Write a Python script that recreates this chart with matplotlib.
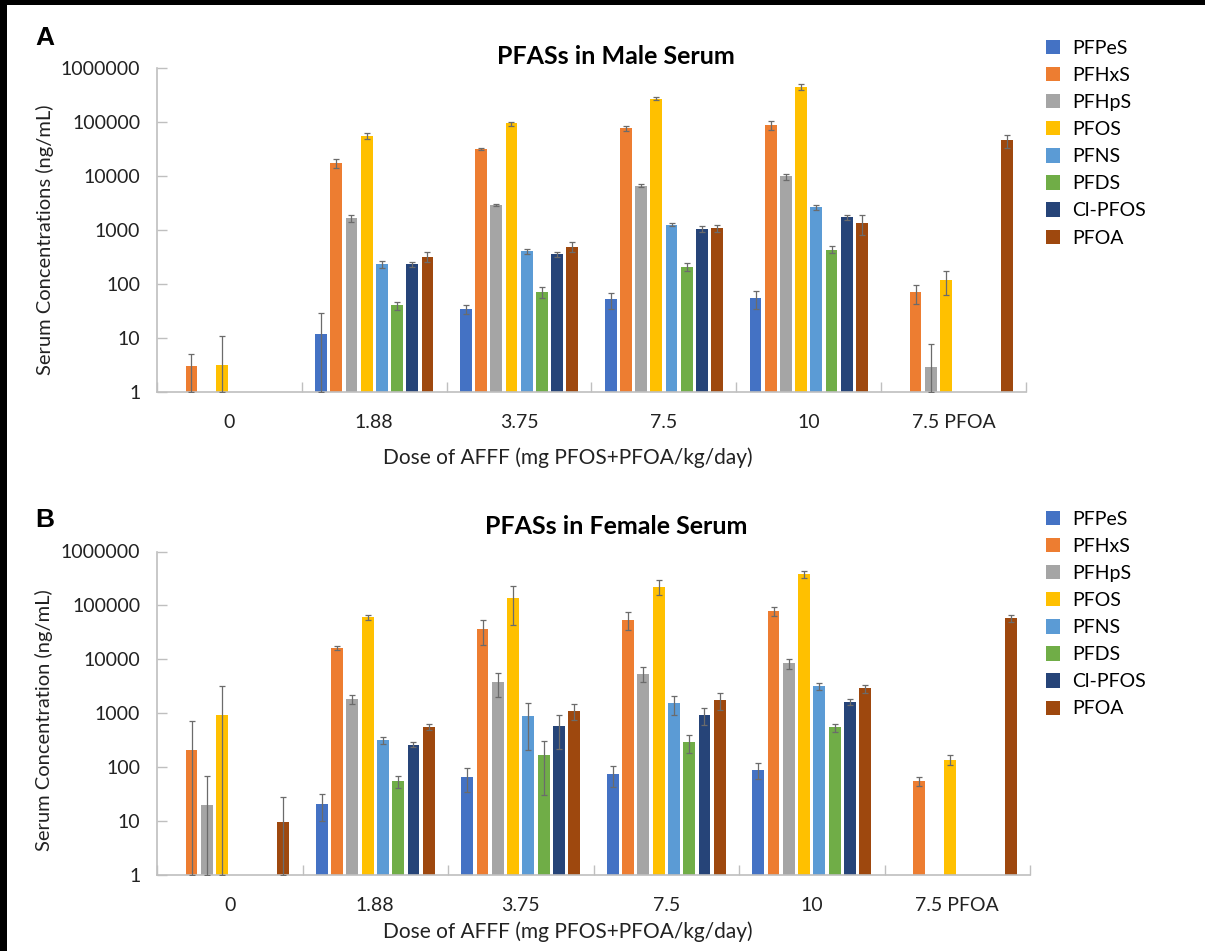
import numpy as np
import matplotlib
matplotlib.use("Agg")
import matplotlib.pyplot as plt
from matplotlib.patches import Rectangle

# --- DATA ---
doses = ["0", "1.88", "3.75", "7.5", "10", "7.5 PFOA"]
compounds = ["PFPeS", "PFHxS", "PFHpS", "PFOS", "PFNS", "PFDS", "Cl-PFOS", "PFOA"]
colors = ["#4472C4", "#ED7D31", "#A5A5A5", "#FFC000", "#5B9BD5", "#70AD47", "#264478", "#9E480E"]
nan = np.nan

# male serum means (one list per compound, one value per dose)
male_pfpes = [nan, 12, 34, 52, 55, nan]
male_pfhxs = [3.05, 17400, 31200, 76700, 87300, 70]
male_pfhps = [nan, 1650, 2900, 6650, 9800, 2.9]
male_pfos = [3.2, 56000, 94000, 270000, 445000, 120]
male_pfns = [nan, 235, 400, 1250, 2630, nan]
male_pfds = [nan, 40, 71, 210, 435, nan]
male_clpfos = [nan, 232, 356, 1050, 1716, nan]
male_pfoa = [nan, 322, 487, 1085, 1364, 45800]

# male upper error-bar ends
male_pfpes_hi = [nan, 29, 40.5, 69, 75, nan]
male_pfhxs_hi = [5.1, 21000, 32500, 86000, 105000, 97]
male_pfhps_hi = [nan, 1920, 3075, 7160, 11100, 7.8]
male_pfos_hi = [10.7, 63500, 102000, 289000, 499000, 177]
male_pfns_hi = [nan, 270, 441, 1325, 2950, nan]
male_pfds_hi = [nan, 47, 88, 245, 501, nan]
male_clpfos_hi = [nan, 260, 393, 1164, 1920, nan]
male_pfoa_hi = [nan, 393, 588, 1250, 1920, 58500]

# female serum means
female_pfpes = [nan, 20.8, 64, 72.6, 88.7, nan]
female_pfhxs = [202, 16300, 36600, 54500, 79100, 54]
female_pfhps = [19.9, 1810, 3740, 5360, 8320, nan]
female_pfos = [930, 60100, 138000, 223000, 384000, 136]
female_pfns = [nan, 310, 877, 1506, 3160, nan]
female_pfds = [nan, 54.5, 168, 285, 541, nan]
female_clpfos = [nan, 258, 564, 914, 1620, nan]
female_pfoa = [9.5, 557, 1103, 1765, 2860, 58600]

# female upper error-bar ends
female_pfpes_hi = [nan, 31.8, 94, 103, 118, nan]
female_pfhxs_hi = [707, 17700, 54500, 74500, 93800, 64.7]
female_pfhps_hi = [68.7, 2120, 5500, 7010, 10000, nan]
female_pfos_hi = [3210, 67500, 233000, 292000, 442000, 166]
female_pfns_hi = [nan, 353, 1550, 2094, 3650, nan]
female_pfds_hi = [nan, 68.7, 306, 389, 632, nan]
female_clpfos_hi = [nan, 285, 914, 1233, 1842, nan]
female_pfoa_hi = [27.5, 632, 1463, 2380, 3350, 67500]

male = [male_pfpes, male_pfhxs, male_pfhps, male_pfos, male_pfns, male_pfds, male_clpfos, male_pfoa]
male_hi = [male_pfpes_hi, male_pfhxs_hi, male_pfhps_hi, male_pfos_hi, male_pfns_hi,
           male_pfds_hi, male_clpfos_hi, male_pfoa_hi]
female = [female_pfpes, female_pfhxs, female_pfhps, female_pfos, female_pfns, female_pfds,
          female_clpfos, female_pfoa]
female_hi = [female_pfpes_hi, female_pfhxs_hi, female_pfhps_hi, female_pfos_hi, female_pfns_hi,
             female_pfds_hi, female_clpfos_hi, female_pfoa_hi]

FONT = "Lato"
AXIS_GREY = "#BFBFBF"


def draw_panel(ax, means, highs, ylabel, title, letter, title_y, letter_y, leg_y):
    x = np.arange(len(doses))
    slot = 0.105
    width = 0.081
    for i, (vals, hi) in enumerate(zip(means, highs)):
        vals = np.array(vals, dtype=float)
        hi = np.array(hi, dtype=float)
        err = hi - vals
        lower = np.minimum(err, vals - 1.0)  # log axis: stop at the baseline
        pos = x + (i - 3.5) * slot
        ax.bar(pos, vals, width=width, color=colors[i], label=compounds[i], zorder=2)
        ax.errorbar(pos, vals, yerr=[lower, err], fmt="none", ecolor="#6b6b6b",
                    elinewidth=0.9, capsize=2.5, capthick=0.9, zorder=3)

    ax.set_yscale("log")
    ax.set_ylim(1, 1e6)
    ax.set_xlim(-0.5, len(doses) - 0.5)
    ticks = [1, 10, 100, 1000, 10000, 100000, 1000000]
    ax.set_yticks(ticks)
    ax.set_yticklabels([str(t) for t in ticks])
    ax.yaxis.set_minor_locator(matplotlib.ticker.NullLocator())
    ax.tick_params(axis="y", direction="in", length=7, width=1, color=AXIS_GREY,
                   labelsize=14, pad=12)

    ax.set_xticks(x)
    ax.set_xticklabels(doses)
    ax.set_xticks(np.arange(len(doses) + 1) - 0.5, minor=True)
    ax.tick_params(axis="x", which="major", length=0, labelsize=14, pad=16)
    ax.tick_params(axis="x", which="minor", direction="in", length=7, width=1, color=AXIS_GREY)

    for s in ["top", "right"]:
        ax.spines[s].set_visible(False)
    for s in ["left", "bottom"]:
        ax.spines[s].set_color(AXIS_GREY)
        ax.spines[s].set_linewidth(1.2)

    for lab in ax.get_xticklabels() + ax.get_yticklabels():
        lab.set_fontfamily(FONT)
        lab.set_color("#222222")

    ax.set_ylabel(ylabel, fontsize=14.5, family=FONT, color="#222222")
    ax.set_xlabel("Dose of AFFF (mg PFOS+PFOA/kg/day)", fontsize=15, family=FONT, color="#222222")

    fig = ax.figure
    fig.text(616 / 1205, title_y, title, ha="center", va="center", fontsize=18,
             fontweight="bold", family=FONT)
    fig.text(45 / 1205, letter_y, letter, ha="center", va="center", fontsize=19,
             fontweight="bold", family="Liberation Sans")

    leg = ax.legend(loc="upper left", bbox_to_anchor=(1036 / 1205, leg_y),
                    bbox_transform=fig.transFigure, frameon=False,
                    prop={"family": FONT, "size": 14}, handlelength=0.75,
                    handleheight=0.75, handletextpad=0.6, labelspacing=0.52,
                    borderpad=0)
    return leg


fig = plt.figure(figsize=(12.05, 9.51), dpi=100, facecolor="black")
fig.patches.append(Rectangle((7 / 1205, 0), 1, 1 - 5 / 951, transform=fig.transFigure,
                             facecolor="white", edgecolor="none", zorder=-10))

ax1 = fig.add_axes([157 / 1205, 1 - 392 / 951, 869 / 1205, 324 / 951])
ax2 = fig.add_axes([157 / 1205, 1 - 874.5 / 951, 873 / 1205, 323 / 951])
ax1.set_facecolor("none")
ax2.set_facecolor("none")

draw_panel(ax1, male, male_hi, "Serum Concentrations (ng/mL)", "PFASs in Male Serum", "A",
           1 - 56 / 951, 1 - 38 / 951, 1 - 30 / 951)
draw_panel(ax2, female, female_hi, "Serum Concentration (ng/mL)", "PFASs in Female Serum", "B",
           1 - 527 / 951, 1 - 520 / 951, 1 - 501 / 951)

ax1.yaxis.set_label_coords(-0.119, 0.47)
ax1.xaxis.set_label_coords(0.473, -0.170)
ax2.yaxis.set_label_coords(-0.119, 0.478)
ax2.xaxis.set_label_coords(0.471, -0.144)

fig.savefig("out.png", dpi=100, facecolor=fig.get_facecolor())
